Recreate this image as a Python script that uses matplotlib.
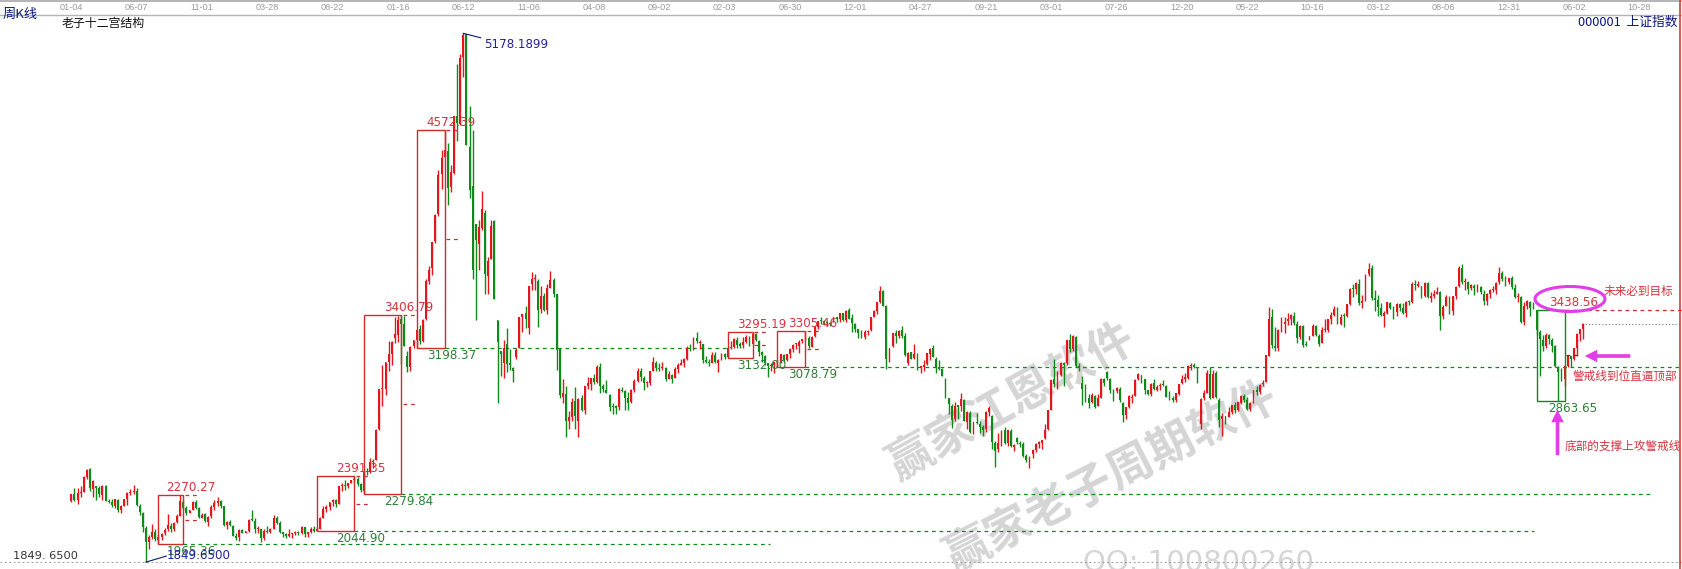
import numpy as np
import matplotlib
matplotlib.use("Agg")
import matplotlib.pyplot as plt
from matplotlib.patches import Rectangle, Ellipse, FancyArrowPatch
from matplotlib import font_manager

plt.rcParams['font.family'] = ['DejaVu Sans']
CJK = ['Noto Sans CJK SC', 'DejaVu Sans']


def pick_font(names):
    for n in names:
        try:
            font_manager.findfont(font_manager.FontProperties(family=n), fallback_to_default=False)
            return n
        except Exception:
            continue
    return 'DejaVu Sans'


NARROW = pick_font(['Liberation Sans Narrow', 'DejaVu Sans Condensed', 'Liberation Sans'])

# ---------------------------------------------------------------- weekly bars
# (open, high, low, close) of the Shanghai Composite, one tuple per trading week
ohlc_2013 = [
    (2233, 2280, 2226, 2276), (2280, 2317, 2232, 2242), (2243, 2317, 2216, 2284), (2285, 2331, 2260, 2291),
    (2290, 2390, 2290, 2385), (2386, 2434, 2370, 2432), (2433, 2445, 2300, 2314), (2310, 2365, 2258, 2359),
    (2330, 2330, 2240, 2318), (2315, 2330, 2262, 2278), (2275, 2335, 2242, 2328), (2330, 2332, 2234, 2236),
    (2235, 2250, 2222, 2225), (2225, 2250, 2195, 2206), (2200, 2250, 2193, 2244), (2240, 2245, 2165, 2177),
    (2175, 2210, 2161, 2205), (2205, 2250, 2200, 2246), (2245, 2290, 2210, 2282), (2285, 2310, 2270, 2288),
    (2290, 2334, 2280, 2300), (2295, 2315, 2205, 2210), (2205, 2215, 2148, 2162), (2160, 2165, 2040, 2073),
    (2065, 2078, 1849.65, 1979), (1975, 2022, 1935, 2007), (2005, 2092, 1994, 2039), (2040, 2060, 1985, 1992),
    (1990, 2025, 1965.36, 2010), (2005, 2035, 1990, 2029), (2030, 2065, 2020, 2052), (2055, 2150, 2046, 2085),
    (2080, 2093, 2040, 2057), (2055, 2105, 2048, 2098), (2100, 2152, 2095, 2139), (2140, 2270.27, 2138, 2236),
    (2230, 2242, 2180, 2191), (2190, 2200, 2149, 2160), (2160, 2178, 2156, 2175), (2180, 2235, 2175, 2228),
    (2230, 2242, 2185, 2193), (2190, 2195, 2130, 2133), (2130, 2156, 2129, 2149), (2150, 2160, 2102, 2106),
    (2105, 2137, 2075, 2135), (2137, 2206, 2130, 2197), (2195, 2243, 2180, 2220), (2220, 2260, 2205, 2237),
    (2235, 2240, 2190, 2204), (2200, 2205, 2080, 2085), (2085, 2110, 2060, 2101),
]
ohlc_2014 = [
    (2100, 2112, 2078, 2083), (2080, 2085, 2012, 2013), (2013, 2030, 1990, 2004), (2005, 2056, 1984, 2054),
    (2050, 2056, 2030, 2033), (2033, 2045, 2030, 2044), (2044, 2120, 2040, 2115), (2115, 2177, 2110, 2113),
    (2110, 2130, 2030, 2056), (2055, 2078, 2030, 2057), (2055, 2060, 1974, 2004), (2004, 2058, 1990, 2047),
    (2047, 2078, 2035, 2041), (2041, 2065, 2030, 2058), (2058, 2146, 2058, 2130), (2130, 2140, 2090, 2098),
    (2098, 2110, 2030, 2036), (2036, 2040, 2010, 2026), (2026, 2035, 1999, 2011), (2011, 2060, 2005, 2026),
    (2025, 2030, 2000, 2034), (2034, 2045, 2020, 2039), (2040, 2045, 2020, 2030), (2030, 2075, 2025, 2070),
    (2070, 2072, 2010, 2024), (2024, 2040, 2010, 2036), (2036, 2070, 2030, 2060), (2060, 2075, 2040, 2046),
    (2046, 2070, 2044.90, 2059), (2059, 2135, 2058, 2127), (2130, 2200, 2125, 2185), (2185, 2210, 2165, 2194),
    (2195, 2230, 2180, 2226), (2226, 2248, 2200, 2240), (2240, 2245, 2195, 2217), (2217, 2330, 2215, 2327),
    (2327, 2345, 2300, 2331), (2331, 2366, 2305, 2329), (2329, 2350, 2315, 2347), (2347, 2365, 2345, 2364),
    (2364, 2391.35, 2355, 2374), (2374, 2388, 2330, 2341), (2341, 2350, 2290, 2302), (2300, 2420, 2279.84, 2420),
    (2420, 2440, 2400, 2418), (2418, 2508, 2410, 2478), (2478, 2500, 2440, 2487), (2490, 2690, 2490, 2682),
    (2685, 2940, 2680, 2937), (2937, 3091, 2835, 2938), (2938, 3110, 2900, 3108), (3108, 3239, 3050, 3157),
    (3157, 3239, 3090, 3235),
]
ohlc_2015 = [
    (3258, 3395, 3230, 3285), (3280, 3400, 3232, 3376), (3380, 3406.79, 3095, 3351), (3350, 3400, 3210, 3210),
    (3150, 3180, 3049, 3076), (3080, 3210, 3050, 3203), (3210, 3250, 3200, 3247), (3250, 3312, 3198.37, 3310),
    (3320, 3340, 3220, 3241), (3240, 3380, 3235, 3372), (3380, 3632, 3375, 3617), (3620, 3715, 3600, 3691),
    (3700, 3865, 3655, 3863), (3870, 4040, 3860, 4034), (4040, 4317, 4030, 4287), (4290, 4444, 4200, 4394),
    (4400, 4572.39, 4400, 4441), (4440, 4488, 4099, 4205), (4210, 4350, 4180, 4308), (4300, 4658, 4290, 4658),
    (4660, 4986, 4500, 4612), (4610, 5051, 4600, 5023), (5030, 5178.19, 4905, 5166), (5174, 5176, 4476, 4478),
    (4460, 4720, 4140, 4193), (4220, 4572, 3629, 3687), (3975, 3975, 3373, 3877), (3849, 4000, 3691, 3957),
    (3950, 4184, 3939, 4070), (4045, 4068, 3537, 3664), (3651, 3768, 3537, 3744), (3758, 4006, 3758, 3965),
    (3996, 4006, 3503, 3508), (3373, 3373, 2851, 3232), (3180, 3180, 3024, 3160), (3100, 3250, 3011, 3200),
    (3220, 3325, 3047, 3097), (3100, 3192, 3059, 3092), (3070, 3077, 2983, 3053), (3140, 3200, 3126, 3183),
    (3196, 3392, 3196, 3391), (3390, 3411, 3300, 3412), (3420, 3459, 3322, 3383), (3325, 3590, 3285, 3590),
    (3600, 3678, 3560, 3632), (3630, 3660, 3565, 3630), (3616, 3630, 3327, 3436), (3440, 3585, 3420, 3524),
    (3525, 3545, 3430, 3435), (3435, 3600, 3410, 3578), (3578, 3685, 3576, 3627), (3625, 3640, 3520, 3539),
]
ohlc_2016 = [
    (3536, 3539, 3056, 3186), (3190, 3200, 2880, 2901), (2890, 3000, 2850, 2916), (2910, 2960, 2638, 2737),
    (2740, 2800, 2690, 2763), (2760, 2880, 2740, 2860), (2865, 2950, 2687, 2767), (2740, 2880, 2639, 2874),
    (2880, 2900, 2800, 2810), (2810, 2960, 2780, 2955), (2960, 3016, 2940, 2979), (2970, 3010, 2935, 3009),
    (3010, 3036, 2969, 2985), (2985, 3088, 2980, 3078), (3080, 3100, 2915, 2960), (2960, 2970, 2920, 2938),
    (2930, 2999, 2913, 2913), (2900, 2910, 2800, 2827), (2827, 2850, 2782, 2825), (2825, 2840, 2780, 2822),
    (2825, 2945, 2810, 2938), (2935, 2950, 2920, 2927), (2925, 2930, 2807, 2885), (2885, 2920, 2808, 2854),
    (2855, 2940, 2850, 2932), (2930, 3000, 2920, 2988), (2990, 3070, 2985, 3054), (3055, 3070, 2990, 3012),
    (3010, 3020, 2930, 2979), (2975, 2990, 2950, 2976), (2975, 3050, 2965, 3050), (3050, 3140, 3050, 3108),
    (3100, 3115, 3050, 3070), (3070, 3100, 3050, 3067), (3070, 3110, 3060, 3078), (3070, 3075, 2990, 3002),
    (3000, 3050, 3000, 3033), (3030, 3035, 2980, 3005), (3010, 3075, 3010, 3064), (3064, 3100, 3040, 3091),
    (3090, 3130, 3090, 3104), (3105, 3135, 3080, 3125), (3125, 3210, 3120, 3196), (3200, 3220, 3180, 3192),
    (3195, 3265, 3185, 3262), (3260, 3301, 3230, 3243), (3230, 3250, 3190, 3232), (3220, 3225, 3100, 3122),
    (3120, 3150, 3100, 3110), (3105, 3125, 3085, 3104),
]
ohlc_2017 = [
    (3105, 3170, 3100, 3154), (3155, 3174, 3100, 3112), (3105, 3130, 3044, 3123), (3125, 3168, 3120, 3159),
    (3159, 3165, 3130, 3140), (3140, 3200, 3132.00, 3196), (3196, 3240, 3190, 3202), (3205, 3261, 3200, 3253),
    (3250, 3264, 3200, 3218), (3220, 3232, 3200, 3212), (3215, 3268, 3200, 3237), (3237, 3280, 3230, 3269),
    (3265, 3271, 3210, 3222), (3225, 3295.19, 3220, 3286), (3285, 3290, 3240, 3246), (3240, 3245, 3150, 3173),
    (3170, 3180, 3112, 3154), (3150, 3155, 3090, 3103), (3100, 3105, 3016, 3083), (3083, 3100, 3050, 3090),
    (3090, 3110, 3040, 3107), (3105, 3120, 3078.79, 3105), (3105, 3160, 3100, 3158), (3155, 3160, 3110, 3123),
    (3120, 3160, 3115, 3157), (3157, 3195, 3135, 3192), (3190, 3220, 3170, 3218), (3220, 3230, 3190, 3222),
    (3210, 3250, 3165, 3238), (3240, 3256, 3230, 3254), (3255, 3305.46, 3250, 3262), (3262, 3270, 3200, 3208),
    (3205, 3270, 3205, 3269), (3270, 3335, 3265, 3332), (3332, 3370, 3320, 3367), (3367, 3390, 3350, 3365),
    (3365, 3375, 3345, 3354), (3355, 3370, 3335, 3353), (3353, 3360, 3335, 3349), (3360, 3395, 3360, 3391),
    (3390, 3395, 3360, 3378), (3378, 3420, 3360, 3417), (3415, 3420, 3370, 3372), (3372, 3435, 3360, 3433),
    (3435, 3450, 3380, 3383), (3385, 3410, 3300, 3353), (3350, 3355, 3300, 3317), (3315, 3320, 3260, 3289),
    (3290, 3310, 3260, 3266), (3265, 3310, 3255, 3297), (3295, 3310, 3280, 3307),
]
ohlc_2018 = [
    (3310, 3395, 3305, 3391), (3395, 3435, 3395, 3429), (3430, 3490, 3410, 3488), (3490, 3587, 3480, 3558),
    (3555, 3560, 3460, 3462), (3460, 3470, 3062, 3129), (3130, 3200, 3110, 3199), (3210, 3290, 3205, 3289),
    (3290, 3310, 3230, 3273), (3270, 3310, 3260, 3307), (3310, 3335, 3260, 3270), (3270, 3290, 3150, 3152),
    (3100, 3170, 3090, 3169), (3170, 3175, 3125, 3131), (3135, 3220, 3125, 3159), (3160, 3165, 3060, 3071),
    (3070, 3085, 3040, 3082), (3080, 3120, 3050, 3091), (3095, 3165, 3090, 3163), (3160, 3200, 3120, 3193),
    (3195, 3215, 3140, 3141), (3130, 3140, 3040, 3075), (3075, 3120, 3060, 3067), (3065, 3070, 3020, 3021),
    (3000, 3010, 2880, 2889), (2880, 2885, 2782, 2847), (2835, 2845, 2691, 2747), (2750, 2860, 2740, 2831),
    (2830, 2840, 2750, 2829), (2835, 2915, 2800, 2874), (2870, 2875, 2735, 2740), (2730, 2800, 2690, 2795),
    (2790, 2800, 2660, 2669), (2670, 2730, 2655, 2729), (2730, 2790, 2720, 2725), (2720, 2735, 2660, 2703),
    (2700, 2715, 2644, 2682), (2685, 2800, 2670, 2797), (2795, 2830, 2770, 2821), (2770, 2775, 2560, 2606),
    (2600, 2610, 2449, 2550), (2560, 2660, 2540, 2598), (2600, 2680, 2580, 2676), (2680, 2700, 2590, 2599),
    (2600, 2680, 2580, 2679), (2675, 2690, 2575, 2579), (2575, 2590, 2548, 2588), (2630, 2640, 2595, 2605),
    (2600, 2615, 2575, 2594), (2590, 2605, 2510, 2516), (2515, 2530, 2480, 2494),
]
ohlc_2019 = [
    (2490, 2515, 2441, 2514), (2530, 2560, 2505, 2554), (2555, 2600, 2545, 2596), (2595, 2615, 2570, 2601),
    (2600, 2620, 2560, 2618), (2630, 2720, 2625, 2682), (2690, 2806, 2680, 2804), (2810, 2997, 2810, 2994),
    (3000, 3130, 2950, 2969), (2970, 3050, 2940, 3022), (3025, 3110, 3020, 3104), (3100, 3110, 2960, 3091),
    (3100, 3250, 3090, 3247), (3245, 3288, 3170, 3189), (3190, 3280, 3180, 3271), (3265, 3270, 3080, 3086),
    (3086, 3100, 3050, 3078), (2980, 3020, 2838, 2939), (2940, 2970, 2860, 2882), (2880, 2910, 2820, 2853),
    (2855, 2915, 2850, 2899), (2895, 2900, 2822, 2828), (2830, 2910, 2830, 2882), (2880, 3010, 2880, 3001),
    (3000, 3010, 2960, 2979), (3045, 3050, 2995, 3011), (3000, 3010, 2915, 2930), (2930, 2940, 2865, 2924),
    (2925, 2950, 2915, 2944), (2940, 2950, 2860, 2868), (2850, 2860, 2733, 2774), (2775, 2825, 2750, 2823),
    (2825, 2900, 2820, 2898), (2880, 2905, 2850, 2886), (2895, 3000, 2895, 2999), (3000, 3040, 2995, 3031),
    (3030, 3030, 2980, 3006), (3005, 3005, 2910, 2932), (2930, 2935, 2900, 2905), (2905, 2980, 2895, 2973),
    (2975, 3000, 2935, 2938), (2935, 2965, 2925, 2954), (2955, 2980, 2935, 2958), (2965, 2995, 2960, 2964),
    (2960, 2965, 2890, 2891), (2895, 2925, 2870, 2885), (2885, 2895, 2860, 2872), (2870, 2915, 2860, 2912),
    (2910, 2970, 2900, 2968), (2975, 3025, 2970, 3005), (3005, 3040, 2985, 3005),
]
ohlc_2020 = [
    (3010, 3090, 3000, 3083), (3085, 3100, 3059, 3092), (3090, 3105, 3070, 3075), (3075, 3080, 2975, 2977),
    (2720, 2880, 2685, 2876), (2880, 2930, 2870, 2917), (2915, 3060, 2915, 3039), (3035, 3075, 2877, 2880),
    (2880, 3060, 2880, 3034), (3040, 3050, 2880, 2887), (2870, 2880, 2700, 2745), (2750, 2790, 2646, 2772),
    (2765, 2770, 2720, 2764), (2765, 2825, 2760, 2797), (2795, 2840, 2780, 2838), (2840, 2855, 2790, 2809),
    (2810, 2860, 2800, 2860), (2850, 2900, 2845, 2895), (2895, 2905, 2860, 2868), (2870, 2890, 2810, 2813),
    (2815, 2860, 2800, 2852), (2855, 2935, 2850, 2930), (2930, 2955, 2900, 2920), (2920, 2970, 2905, 2967),
    (2970, 2995, 2960, 2980), (2985, 3155, 2985, 3152), (3150, 3458, 3150, 3383), (3390, 3440, 3200, 3214),
    (3210, 3330, 3180, 3196), (3200, 3320, 3180, 3310), (3310, 3390, 3300, 3354), (3350, 3390, 3290, 3360),
    (3365, 3415, 3340, 3380), (3380, 3410, 3340, 3404), (3400, 3425, 3340, 3355), (3350, 3370, 3230, 3260),
    (3265, 3345, 3255, 3338), (3335, 3340, 3203, 3219), (3220, 3240, 3210, 3218), (3260, 3275, 3250, 3272),
    (3275, 3350, 3270, 3336), (3335, 3345, 3275, 3278), (3275, 3285, 3210, 3225), (3230, 3330, 3230, 3312),
    (3310, 3380, 3300, 3310), (3310, 3380, 3300, 3378), (3378, 3425, 3350, 3408), (3405, 3460, 3400, 3445),
    (3445, 3455, 3347, 3347), (3350, 3410, 3345, 3395), (3400, 3415, 3330, 3397), (3400, 3475, 3390, 3473),
]
ohlc_2021 = [
    (3475, 3575, 3470, 3570), (3570, 3600, 3520, 3566), (3570, 3610, 3540, 3607), (3600, 3630, 3470, 3483),
    (3480, 3530, 3446, 3496), (3500, 3660, 3495, 3655), (3665, 3732, 3650, 3696), (3700, 3720, 3500, 3509),
    (3510, 3560, 3430, 3502), (3500, 3530, 3400, 3453), (3450, 3480, 3400, 3405), (3400, 3430, 3328, 3418),
    (3420, 3490, 3410, 3484), (3480, 3490, 3440, 3451), (3450, 3460, 3380, 3427), (3425, 3480, 3400, 3474),
    (3475, 3480, 3430, 3447), (3450, 3480, 3410, 3419), (3420, 3495, 3390, 3490), (3490, 3500, 3470, 3487),
    (3490, 3610, 3480, 3601), (3600, 3625, 3560, 3592), (3590, 3620, 3580, 3590), (3585, 3590, 3515, 3525),
    (3525, 3610, 3520, 3607), (3605, 3615, 3510, 3519), (3515, 3550, 3490, 3525), (3525, 3560, 3510, 3539),
    (3540, 3580, 3540, 3550), (3550, 3555, 3312, 3397), (3400, 3470, 3380, 3458), (3460, 3530, 3460, 3517),
    (3510, 3525, 3410, 3428), (3430, 3525, 3405, 3522), (3525, 3590, 3505, 3581), (3585, 3715, 3580, 3703),
    (3700, 3723, 3600, 3613), (3610, 3640, 3560, 3613), (3610, 3620, 3540, 3568), (3575, 3600, 3565, 3592),
    (3590, 3600, 3530, 3572), (3570, 3600, 3550, 3583), (3580, 3585, 3540, 3547), (3540, 3560, 3470, 3491),
    (3495, 3545, 3470, 3539), (3535, 3570, 3510, 3561), (3560, 3590, 3550, 3564), (3560, 3615, 3540, 3608),
    (3610, 3708, 3600, 3667), (3670, 3680, 3620, 3633), (3630, 3650, 3590, 3618), (3615, 3640, 3600, 3640),
]
ohlc_2022 = [
    (3640, 3650, 3570, 3579), (3575, 3600, 3510, 3521), (3520, 3545, 3485, 3522), (3520, 3525, 3357, 3361),
    (3360, 3490, 3340, 3462), (3460, 3500, 3440, 3491), (3490, 3495, 3400, 3451), (3450, 3490, 3440, 3447),
    (3438.56, 3438.56, 3280, 3309), (3300, 3310, 3023, 3251), (3250, 3280, 3180, 3212), (3210, 3290, 3200, 3282),
    (3280, 3285, 3220, 3252), (3250, 3260, 3170, 3211), (3210, 3215, 3080, 3087), (3080, 3085, 2863.65, 3047),
    (3040, 3070, 2990, 3002), (3000, 3090, 2955, 3084), (3085, 3150, 3080, 3147), (3145, 3150, 3080, 3130),
    (3130, 3200, 3120, 3195), (3195, 3290, 3150, 3285), (3285, 3320, 3240, 3317), (3315, 3352, 3255, 3350),
]

# date labels along the top strip, one every 21 weekly bars
tick_labels = ["01-04", "06-07", "11-01", "03-28", "08-22", "01-16", "06-12", "11-06", "04-08",
               "09-02", "02-03", "06-30", "12-01", "04-27", "09-21", "03-01", "07-26", "12-20",
               "05-22", "10-16", "03-12", "08-06", "12-31", "06-02", "10-28"]
tick_step = 21

# twelve-palace boxes: first bar, last bar, low, high
box_start = [28, 79, 94, 111, 211, 227, 471]
box_end = [36, 91, 106, 120, 219, 236, 480]
box_low = [1965.36, 2044.90, 2279.84, 3198.37, 3132.00, 3078.79, 2863.65]
box_high = [2270.27, 2391.35, 3406.79, 4572.39, 3295.19, 3305.46, 3438.56]

all_low = 1849.65
all_high = 5178.1899

# ---------------------------------------------------------------- layout
W, H = 1682, 569
X0, DX = 71.3, 3.111          # pixel of bar 0, pixels per bar
P_REF, Y_REF, PX_PER_PT = 5178.19, 33.3, 0.15887

RED = '#e4161c'
GREEN = '#0f8a1a'
BOX_RED = '#cf2b2b'
TXT_RED = '#d6333f'
TXT_GREEN = '#2f7f37'
BLUE = '#23239a'
NAVY = '#0a1a7a'
MAGENTA = '#e23de6'

fig = plt.figure(figsize=(W / 100, H / 100), dpi=100)
fig.patch.set_facecolor('white')
ax = fig.add_axes([0, 0, 1, 1])
ax.set_axis_off()
ax.set_xlim(-X0 / DX, (W - X0) / DX)
ax.set_ylim(P_REF - (H - Y_REF) / PX_PER_PT, P_REF + Y_REF / PX_PER_PT)

PT_PER_PX = 1 / PX_PER_PT     # price units per pixel
BAR_PER_PX = 1 / DX


def fx(x):
    return x / W


def fy(y):
    return 1 - y / H


# ---------------------------------------------------------------- watermarks
wm_color = '#d5d5d5'
ax.text(fx(1012), fy(402), "赢家江恩软件", transform=fig.transFigure, family=CJK, fontsize=33,
        color=wm_color, rotation=29, ha='center', va='center', zorder=0, fontweight='bold')
ax.text(fx(1112), fy(477), "赢家老子周期软件", transform=fig.transFigure, family=CJK, fontsize=33,
        color=wm_color, rotation=27, ha='center', va='center', zorder=0, fontweight='bold')
ax.text(fx(1083), fy(549), "QQ: 100800260", transform=fig.transFigure, fontsize=21,
        color=wm_color, ha='left', va='top', zorder=0)

# ---------------------------------------------------------------- candles
bars = np.array(ohlc_2013 + ohlc_2014 + ohlc_2015 + ohlc_2016 + ohlc_2017 +
                ohlc_2018 + ohlc_2019 + ohlc_2020 + ohlc_2021 + ohlc_2022, dtype=float)
o, h, l, c = bars.T
idx = np.arange(len(bars))
up = c >= o
colors = np.where(up, RED, GREEN)

ax.vlines(idx, l, h, colors=colors, linewidth=1.0, zorder=3)
body_lo = np.minimum(o, c)
body_h = np.maximum(np.abs(c - o), 1.2 * PT_PER_PX)
ax.bar(idx, body_h, bottom=body_lo, width=0.62, color=colors, linewidth=0, zorder=3)

# ---------------------------------------------------------------- guide lines
x_right = (W - X0) / DX
dash = (0, (3, 3))
ax.axhline(all_low, color='#9a9a9a', linewidth=0.8, linestyle=(0, (1.5, 2.5)), zorder=1)

long_lines = [  # price, from bar, to bar, colour
    (box_low[0], box_end[0], (770 - X0) / DX, GREEN),
    (box_low[1], box_end[1], (1534 - X0) / DX, GREEN),
    (box_low[2], box_end[2], (1652 - X0) / DX, GREEN),
    (box_low[3], box_end[3], box_start[4], GREEN),
    (box_low[5], box_end[5], x_right, GREEN),
    (box_high[6], box_end[6], x_right, BOX_RED),
]
for price, xa, xb, col in long_lines:
    ax.hlines(price, xa, xb, colors=col, linewidth=0.9, linestyles=[dash], zorder=2)

ax.hlines(c[-1], idx[-1] + 0.5, x_right, colors='#8a8a8a', linewidth=0.8,
          linestyles=[(0, (1.2, 1.8))], zorder=2)

# ---------------------------------------------------------------- boxes
label_dx = [8, 19, 20, 10, 9, 11, 12]
for k in range(len(box_start)):
    x0b, x1b = box_start[k], box_end[k]
    lo, hi = box_low[k], box_high[k]
    edge = GREEN if k == len(box_start) - 1 else BOX_RED
    ax.add_patch(Rectangle((x0b, lo), x1b - x0b, hi - lo, fill=False, edgecolor=edge,
                           linewidth=1.0, zorder=4))
    mid = (lo + hi) / 2
    stub_col = '#2b4b2b' if k == len(box_start) - 1 else BOX_RED
    ax.hlines([hi, mid], x1b + 0.6, x1b + 5.0, colors=stub_col, linewidth=0.9,
              linestyles=[dash], zorder=4)
    lx = x0b + label_dx[k] * BAR_PER_PX
    ax.text(lx, hi + 7.5 * PT_PER_PX, f"{hi:.2f}", color=TXT_RED, fontsize=8.6,
            ha='left', va='center', zorder=6)
    ax.text(lx, lo - 7.5 * PT_PER_PX, f"{lo:.2f}", color=TXT_GREEN, fontsize=8.6,
            ha='left', va='center', zorder=6)

# ---------------------------------------------------------------- extreme markers
i_hi = int(np.argmax(h))
i_lo = int(np.argmin(l))
ax.plot([i_hi, i_hi + 5.6], [all_high, all_high - 4.5 * PT_PER_PX], color=NAVY, linewidth=0.8, zorder=6)
ax.text(i_hi + 6.8, all_high - 11 * PT_PER_PX, f"{all_high:.4f}", color=BLUE, fontsize=8.6,
        ha='left', va='center', zorder=6)
ax.plot([i_lo, i_lo + 6.5], [all_low, all_low + 6 * PT_PER_PX], color=NAVY, linewidth=0.8, zorder=6)
ax.text(i_lo + 6.6, all_low + 6.5 * PT_PER_PX, f"{all_low:.4f}", color=BLUE, fontsize=8.6,
        ha='left', va='center', zorder=7)

# ---------------------------------------------------------------- header strip
fig.add_artist(plt.Line2D([0, 1], [fy(0.5), fy(0.5)], color='#a8a8a8', linewidth=1.2))
fig.add_artist(plt.Line2D([0, 1], [fy(14.5), fy(14.5)], color='#b4b4b4', linewidth=1.0))
fig.add_artist(plt.Line2D([fx(1679.5), fx(1679.5)], [0, 1], color='#d04040', linewidth=1.2))
for k, lab in enumerate(tick_labels):
    xt = X0 + k * tick_step * DX
    fig.text(fx(xt), fy(8), lab, family=NARROW, fontsize=6.6, color='#9b9b9b',
             ha='center', va='center')

fig.text(fx(3), fy(14), "周K线", family=CJK, fontsize=9.5, color=NAVY, ha='left', va='center')
fig.text(fx(62), fy(23), "老子十二宫结构", family=CJK, fontsize=8.6, color='#111111', ha='left', va='center')
fig.text(fx(1677), fy(22.5), "000001  上证指数", family=CJK, fontsize=9.2, color=NAVY,
         ha='right', va='center')
fig.text(fx(13), fy(556), "1849. 6500", fontsize=8.2, color='#333333', ha='left', va='center')

# ---------------------------------------------------------------- notes on the latest structure
fig.text(fx(1604), fy(291), "未来必到目标", family=CJK, fontsize=8.4, color=TXT_RED, ha='left', va='center')
fig.text(fx(1573), fy(376), "警戒线到位直逼顶部", family=CJK, fontsize=8.4, color=TXT_RED, ha='left', va='center')
fig.text(fx(1565), fy(446), "底部的支撑上攻警戒线", family=CJK, fontsize=8.4, color=TXT_RED, ha='left', va='center')

fig.add_artist(Ellipse((fx(1570), fy(299)), 70 / W, 25 / H, fill=False, edgecolor=MAGENTA,
                       linewidth=2.2, transform=fig.transFigure))
fig.add_artist(FancyArrowPatch((fx(1633), fy(356)), (fx(1582), fy(356)), transform=fig.transFigure,
                               arrowstyle='simple,head_length=9,head_width=9,tail_width=2.6',
                               color=MAGENTA, linewidth=0))
fig.add_artist(FancyArrowPatch((fx(1557.5), fy(458)), (fx(1557.5), fy(407)), transform=fig.transFigure,
                               arrowstyle='simple,head_length=9,head_width=9,tail_width=2.6',
                               color=MAGENTA, linewidth=0))

fig.savefig("out.png", dpi=100, facecolor='white')
